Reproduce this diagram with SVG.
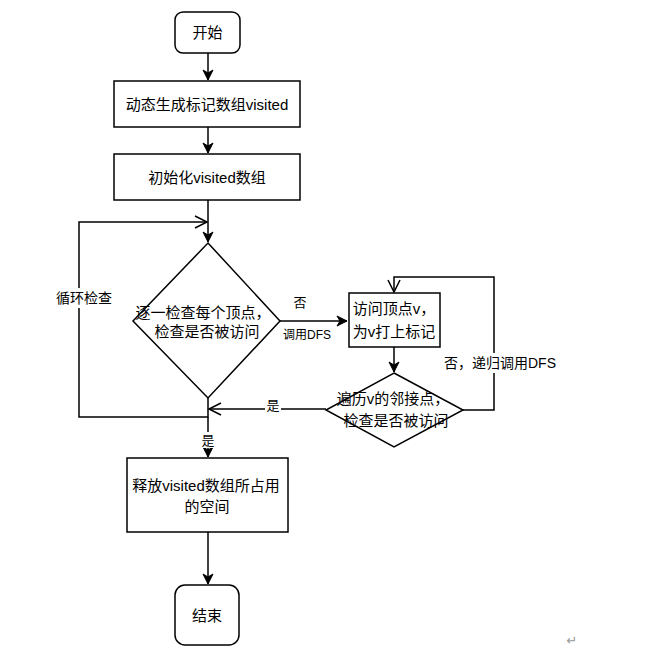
<svg xmlns="http://www.w3.org/2000/svg" width="665" height="652" viewBox="0 0 665 652">
<style>
.box{fill:#fff;stroke:#000;stroke-width:1.5}
.ln{fill:none;stroke:#000;stroke-width:1.5}
.t{font-family:"Liberation Sans","Noto Sans CJK SC",sans-serif;font-size:15px;fill:#000;text-anchor:middle;dominant-baseline:central}
.lb{font-family:"Liberation Sans","Noto Sans CJK SC",sans-serif;fill:#000;text-anchor:middle;dominant-baseline:central}
.bg{fill:#fff;stroke:none}
</style>
<defs>
<marker id="fa" markerUnits="userSpaceOnUse" markerWidth="14" markerHeight="12" refX="11" refY="6" orient="auto">
<path d="M1,1 L11,6 L1,11 L4,6 Z" fill="#000" stroke="#000" stroke-width="1"/>
</marker>
<marker id="oa" markerUnits="userSpaceOnUse" markerWidth="16" markerHeight="14" refX="13" refY="7" orient="auto">
<path d="M1,1 L13,7 L1,13" fill="none" stroke="#000" stroke-width="1.5"/>
</marker>
</defs>
<rect width="665" height="652" fill="#fff"/>
<g id="connectors">
<path class="ln" d="M208,53 V80" marker-end="url(#fa)"/>
<path class="ln" d="M208,127 V153" marker-end="url(#fa)"/>
<path class="ln" d="M208,200 V242" marker-end="url(#fa)"/>
<path class="ln" d="M208,398 V417 H79 V222 H207" marker-end="url(#oa)"/>
<path class="ln" d="M208,417 V457" marker-end="url(#fa)"/>
<path class="ln" d="M208,532 V584" marker-end="url(#fa)"/>
<path class="ln" d="M280,321 H347" marker-end="url(#fa)"/>
<path class="ln" d="M394,347 V372" marker-end="url(#fa)"/>
<path class="ln" d="M463,410 H494 V277 H394 V292" marker-end="url(#oa)"/>
<path class="ln" d="M326,409 H209" marker-end="url(#oa)"/>
<rect class="bg" x="54" y="288" width="60" height="20"/>
<text class="lb" x="84" y="298" font-size="14">循环检查</text>
<text class="lb" x="300" y="302" font-size="13">否</text>
<text class="lb" x="307" y="335" font-size="12">调用DFS</text>
<rect class="bg" x="440" y="353" width="120" height="20"/>
<text class="lb" x="500" y="363" font-size="14">否，递归调用DFS</text>
<rect class="bg" x="265" y="401" width="16" height="14"/>
<text class="lb" x="273" y="405" font-size="13">是</text>
<rect class="bg" x="200" y="432" width="16" height="16"/>
<text class="lb" x="208" y="440" font-size="13">是</text>
</g>
<g id="start">
<rect class="box" x="175" y="12" width="65" height="41" rx="8"/>
<text class="t" x="207.5" y="32.5" font-size="15.5">开始</text>
</g>
<g id="alloc">
<rect class="box" x="114" y="81" width="186" height="46"/>
<text class="t" x="207" y="104" font-size="16.5">动态生成标记数组visited</text>
</g>
<g id="init">
<rect class="box" x="114" y="154" width="186" height="46"/>
<text class="t" x="207" y="177" font-size="16.5">初始化visited数组</text>
</g>
<g id="check">
<polygon class="box" points="208,243 280,321 208,398 133,321"/>
<text class="t" x="203" y="312">逐一检查每个顶点，</text>
<text class="t" x="207" y="331">检查是否被访问</text>
</g>
<g id="visit">
<rect class="box" x="349" y="293" width="91" height="54"/>
<text class="t" x="394" y="308">访问顶点v，</text>
<text class="t" x="394" y="331">为v打上标记</text>
</g>
<g id="neighbors">
<polygon class="box" points="394,373 463,410 394,447 326,410"/>
<text class="t" x="393" y="398">遍历v的邻接点，</text>
<text class="t" x="396" y="420">检查是否被访问</text>
</g>
<g id="free">
<rect class="box" x="127" y="458" width="161" height="74"/>
<text class="t" x="206" y="485" font-size="16">释放visited数组所占用</text>
<text class="t" x="207" y="506" font-size="16">的空间</text>
</g>
<g id="end">
<rect class="box" x="175" y="585" width="64" height="60" rx="10"/>
<text class="t" x="207" y="615" font-size="15.5">结束</text>
</g>
<text x="572" y="640" font-family="DejaVu Sans,sans-serif" font-size="13" fill="#999" text-anchor="middle" dominant-baseline="central">↵</text>
</svg>
